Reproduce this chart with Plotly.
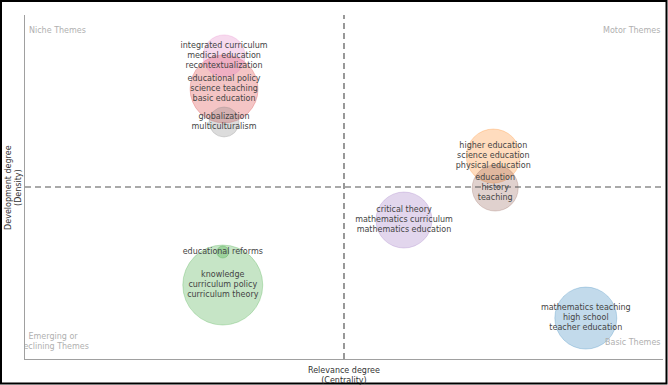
import plotly.graph_objects as go

# ---- data (centrality, density, bubble size) ----
theme_labels = [
    "mathematics teaching<br>high school<br>teacher education",
    "higher education<br>science education<br>physical education",
    "knowledge<br>curriculum policy<br>curriculum theory",
    "educational policy<br>science teaching<br>basic education",
    "critical theory<br>mathematics curriculum<br>mathematics education",
    "education<br>history<br>teaching",
    "integrated curriculum<br>medical education<br>recontextualization",
    "globalization<br>multiculturalism",
    "educational reforms",
]
centrality = [0.879, 0.734, 0.310, 0.312, 0.594, 0.737, 0.312, 0.312, 0.310]
density = [0.119, 0.590, 0.215, 0.785, 0.404, 0.497, 0.881, 0.689, 0.311]
bubble_size = [62, 54, 80, 68, 56, 46, 42, 30, 12]
palette = ["#1f77b4", "#ff7f0e", "#2ca02c", "#d62728", "#9467bd",
           "#8c564b", "#e377c2", "#7f7f7f", "#2ca02c"]

x_range = [0, 1]
y_range = [0, 1]
x_mid = 0.5
y_mid = 0.5

FONT = "DejaVu Sans"


def rgba(hex_color, a):
    h = hex_color.lstrip("#")
    r, g, b = int(h[0:2], 16), int(h[2:4], 16), int(h[4:6], 16)
    return f"rgba({r},{g},{b},{a})"


fig = go.Figure()

for i in range(len(theme_labels)):
    fig.add_trace(go.Scatter(
        x=[centrality[i]], y=[density[i]],
        mode="markers",
        marker=dict(size=bubble_size[i], sizemode="diameter",
                    color=rgba(palette[i], 0.27),
                    line=dict(color=rgba(palette[i], 0.25), width=1)),
        hoverinfo="skip", showlegend=False, cliponaxis=False,
    ))

fig.add_trace(go.Scatter(
    x=centrality, y=density, mode="text", text=theme_labels,
    textposition="middle center",
    textfont=dict(family=FONT, size=8, color="#444444"),
    hoverinfo="skip", showlegend=False, cliponaxis=False,
))

# clipped quadrant label (bottom-left)
fig.add_trace(go.Scatter(
    x=[x_range[0] + 0.044], y=[y_range[0] + 0.05],
    mode="text", text=["Emerging or<br>Declining Themes"],
    textposition="middle center",
    textfont=dict(family=FONT, size=8, color="#b0b0b0"),
    hoverinfo="skip", showlegend=False, cliponaxis=True,
))

gray = "#b0b0b0"
annots = [
    dict(x=0.003, y=0.956, xref="paper", yref="paper", text="Niche Themes",
         xanchor="left", yanchor="middle", showarrow=False,
         font=dict(family=FONT, size=8, color=gray)),
    dict(x=0.998, y=0.956, xref="paper", yref="paper", text="Motor Themes",
         xanchor="right", yanchor="middle", showarrow=False,
         font=dict(family=FONT, size=8, color=gray)),
    dict(x=0.998, y=0.047, xref="paper", yref="paper", text="Basic Themes",
         xanchor="right", yanchor="middle", showarrow=False,
         font=dict(family=FONT, size=8, color=gray)),
    dict(x=0.5, y=-0.047, xref="paper", yref="paper",
         text="Relevance degree<br>(Centrality)",
         xanchor="center", yanchor="middle", showarrow=False,
         font=dict(family=FONT, size=8, color="#333333")),
    dict(x=-0.019, y=0.5, xref="paper", yref="paper",
         text="Development degree<br>(Density)", textangle=-90,
         xanchor="center", yanchor="middle", showarrow=False,
         font=dict(family=FONT, size=8, color="#333333")),
]

shapes = [
    dict(type="line", xref="x", yref="paper", x0=x_mid, x1=x_mid, y0=0, y1=1,
         line=dict(color="#555555", width=1.2, dash="6px,4px"), layer="above"),
    dict(type="line", xref="paper", yref="y", x0=0, x1=1, y0=y_mid, y1=y_mid,
         line=dict(color="#555555", width=1.2, dash="6px,4px"), layer="above"),
    dict(type="rect", xref="paper", yref="paper",
         x0=(1 - 25) / 638, x1=(666.5 - 25) / 638,
         y0=(359 - 383.5) / 344, y1=(359 - 1) / 344,
         line=dict(color="#000000", width=2), fillcolor="rgba(0,0,0,0)",
         layer="above"),
]

fig.update_layout(
    width=668, height=385,
    margin=dict(l=25, r=5, t=15, b=26),
    paper_bgcolor="white", plot_bgcolor="white",
    annotations=annots, shapes=shapes,
    xaxis=dict(range=x_range, showgrid=False, zeroline=False,
               showticklabels=False, ticks="", showline=True,
               linecolor="#a0a0a0", linewidth=1, fixedrange=True),
    yaxis=dict(range=y_range, showgrid=False, zeroline=False,
               showticklabels=False, ticks="", showline=True,
               linecolor="#a0a0a0", linewidth=1, fixedrange=True),
    font=dict(family=FONT, size=8),
)

fig.write_html("out.html", config={"displayModeBar": False})
